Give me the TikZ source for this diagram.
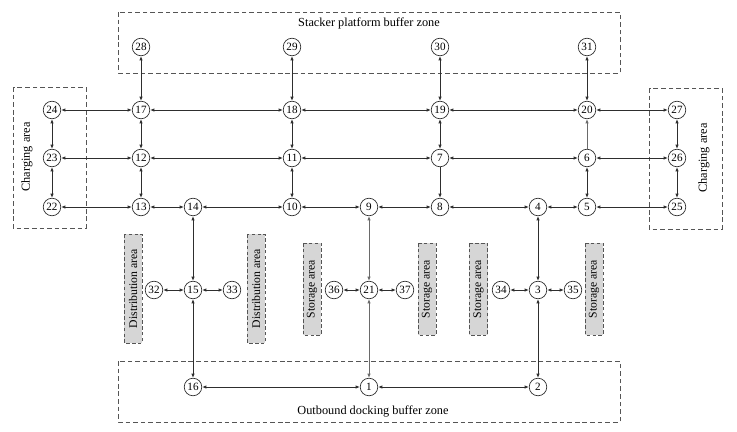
\documentclass[tikz,border=0pt]{standalone}
\usepackage{fontspec}
\setmainfont{Liberation Serif}
\usepackage{xcolor}
\usepackage{tikz}
\usetikzlibrary{arrows.meta,positioning,calc}
\definecolor{pathgray}{HTML}{2E2E2E}
\definecolor{lightpath}{HTML}{6A6A6A}
\definecolor{zonegray}{HTML}{555555}
\definecolor{areafill}{HTML}{D6D6D6}
\tikzset{
  site/.style={circle, draw=pathgray, fill=white, line width=0.6pt, inner sep=0.3pt, minimum size=15pt, font=\fontsize{9.5}{10}\selectfont},
  zone/.style={dashed, dash pattern=on 4pt off 2.5pt, draw=zonegray, line width=0.75pt},
  areabox/.style={draw=zonegray, fill=areafill, dashed, dash pattern=on 3pt off 2pt, line width=0.6pt, minimum height=15.5pt, rotate=90, font=\fontsize{10}{11}\selectfont, inner sep=0pt},
  zonelabel/.style={font=\fontsize{10.5}{12}\selectfont},
  biedge/.style={{Latex[length=3.6pt,width=3pt]}-{Latex[length=3.6pt,width=3pt]}, line width=0.8pt, draw=pathgray},
  oneedge/.style={-{Latex[length=3.6pt,width=3pt]}, line width=0.8pt, draw=pathgray},
  lightedge/.style={biedge, draw=lightpath}
}
\begin{document}
\begin{tikzpicture}[x=0.3mm,y=-0.3mm]
  \useasboundingbox (0,0) rectangle (737,431);
  % zones
  \draw[zone] (118,12) rectangle (620,73);
  \node[zonelabel] (stacker) at (369,23) {Stacker platform buffer zone};
  \draw[zone] (118,361) rectangle (620,422);
  \node[zonelabel] (outbound) at (373,411) {Outbound docking buffer zone};
  \draw[zone] (13,87) rectangle (86,228);
  \node[zonelabel, rotate=90] (chargeL) at (27,157) {Charging area};
  \draw[zone] (649,88) rectangle (722,229);
  \node[zonelabel, rotate=90] (chargeR) at (704,158) {Charging area};
  % distribution and storage areas
  \node[areabox, minimum width=109*0.3mm] (distL) at (133,288.5) {Distribution area};
  \node[areabox, minimum width=109*0.3mm] (distR) at (256,288.5) {Distribution area};
  \node[areabox, minimum width=92*0.3mm] (storA) at (312,289) {Storage area};
  \node[areabox, minimum width=92*0.3mm] (storB) at (427,289) {Storage area};
  \node[areabox, minimum width=92*0.3mm] (storC) at (478.5,289) {Storage area};
  \node[areabox, minimum width=92*0.3mm] (storD) at (594,289) {Storage area};
  % sites
  \node[site] (n28) at (141,47) {28};
  \node[site] (n29) at (292,47) {29};
  \node[site] (n30) at (440,47) {30};
  \node[site] (n31) at (587,47) {31};
  \node[site] (n24) at (52,110) {24};
  \node[site] (n17) at (141,110) {17};
  \node[site] (n18) at (292,110) {18};
  \node[site] (n19) at (440,110) {19};
  \node[site] (n20) at (587,110) {20};
  \node[site] (n27) at (677,110) {27};
  \node[site] (n23) at (52,158) {23};
  \node[site] (n12) at (141,158) {12};
  \node[site] (n11) at (292,158) {11};
  \node[site] (n7) at (440,158) {7};
  \node[site] (n6) at (587,158) {6};
  \node[site] (n26) at (677,158) {26};
  \node[site] (n22) at (52,207) {22};
  \node[site] (n13) at (141,207) {13};
  \node[site] (n14) at (193,207) {14};
  \node[site] (n10) at (292,207) {10};
  \node[site] (n9) at (369,207) {9};
  \node[site] (n8) at (440,207) {8};
  \node[site] (n4) at (538,207) {4};
  \node[site] (n5) at (587,207) {5};
  \node[site] (n25) at (677,207) {25};
  \node[site] (n32) at (154,290) {32};
  \node[site] (n15) at (193,290) {15};
  \node[site] (n33) at (232,290) {33};
  \node[site] (n36) at (334,290) {36};
  \node[site] (n21) at (369,290) {21};
  \node[site] (n37) at (405,290) {37};
  \node[site] (n34) at (501,290) {34};
  \node[site] (n3) at (538,290) {3};
  \node[site] (n35) at (573,290) {35};
  \node[site] (n16) at (193,387) {16};
  \node[site] (n1) at (369,387) {1};
  \node[site] (n2) at (538,387) {2};
  % stacker links
  \draw[biedge] (n17) -- (n28);
  \draw[biedge] (n18) -- (n29);
  \draw[biedge] (n19) -- (n30);
  \draw[biedge] (n20) -- (n31);
  % rows
  \draw[biedge] (n24) -- (n17);
  \draw[biedge] (n17) -- (n18);
  \draw[biedge] (n18) -- (n19);
  \draw[biedge] (n19) -- (n20);
  \draw[biedge] (n20) -- (n27);
  \draw[biedge] (n23) -- (n12);
  \draw[biedge] (n12) -- (n11);
  \draw[biedge] (n11) -- (n7);
  \draw[biedge] (n7) -- (n6);
  \draw[biedge] (n6) -- (n26);
  \draw[biedge] (n22) -- (n13);
  \draw[biedge] (n13) -- (n14);
  \draw[biedge] (n14) -- (n10);
  \draw[biedge] (n10) -- (n9);
  \draw[biedge] (n9) -- (n8);
  \draw[biedge] (n8) -- (n4);
  \draw[biedge] (n4) -- (n5);
  \draw[biedge] (n5) -- (n25);
  % columns
  \draw[biedge] (n24) -- (n23);
  \draw[biedge] (n23) -- (n22);
  \draw[biedge] (n17) -- (n12);
  \draw[biedge] (n12) -- (n13);
  \draw[biedge] (n18) -- (n11);
  \draw[biedge] (n11) -- (n10);
  \draw[biedge] (n19) -- (n7);
  \draw[oneedge] (n7) -- (n8);
  \draw[oneedge, draw=lightpath] (n6) -- (n20);
  \draw[biedge] (n6) -- (n5);
  \draw[biedge] (n27) -- (n26);
  \draw[biedge] (n26) -- (n25);
  % aisles
  \draw[biedge] (n14) -- (n15);
  \draw[biedge] (n15) -- (n16);
  \draw[lightedge] (n9) -- (n21);
  \draw[lightedge] (n21) -- (n1);
  \draw[biedge] (n4) -- (n3);
  \draw[biedge] (n3) -- (n2);
  \draw[biedge] (n32) -- (n15);
  \draw[biedge] (n15) -- (n33);
  \draw[biedge] (n36) -- (n21);
  \draw[biedge] (n21) -- (n37);
  \draw[biedge] (n34) -- (n3);
  \draw[biedge] (n3) -- (n35);
  % outbound
  \draw[biedge] (n16) -- (n1);
  \draw[biedge] (n1) -- (n2);
\end{tikzpicture}
\end{document}
